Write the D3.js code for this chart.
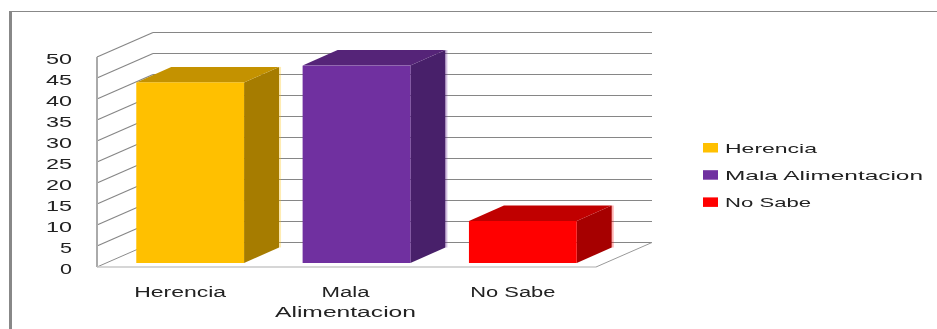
<!DOCTYPE html>
<html><head><meta charset="utf-8">
<script src="https://cdn.jsdelivr.net/npm/d3@7"></script>
<style>html,body{margin:0;padding:0;background:#fff}svg{display:block;filter:blur(0.35px)}
text{font-family:"Liberation Sans",sans-serif;font-size:14px;fill:#222}</style></head>
<body><svg id="c" width="937" height="329"></svg>
<script>
const categories = ["Herencia","Mala Alimentacion","No Sabe"];
const axisLabels = [["Herencia"],["Mala","Alimentacion"],["No Sabe"]];
const values = [43,47,10];
const yTicks = [0,5,10,15,20,25,30,35,40,45,50];
const faceColors = ["#FFC000","#7030A0","#FF0000"];
const topColors = ["#C49200","#552478","#C00000"];
const sideColors = ["#A67C00","#48206A","#A60000"];

const svg = d3.select("#c");
const y = d3.scaleLinear().domain([0,50]).range([267,57]);
const x = d3.scaleBand().domain(categories).range([107,606]).paddingInner(0.352).paddingOuter(0.176);
const depth = {dx:56, dy:-24.5};
const barDepth = {dx:35, dy:-15.5};
const barInset = -4;
const left = 97, right = 596;

// frame
svg.append("rect").attr("x",9).attr("y",11).attr("width",3).attr("height",318).attr("fill","#888");
svg.append("rect").attr("x",9).attr("y",11).attr("width",928).attr("height",1).attr("fill","#888");

// walls
const grid = svg.append("g").attr("fill","none").attr("stroke","#868686").attr("stroke-width",1.2);
yTicks.forEach(t=>{
  const p = y(t);
  if(t>0) grid.append("path").attr("d",`M${left},${p}L${left+depth.dx},${p+depth.dy}`);
  grid.append("path").attr("d",`M${left+depth.dx},${p+depth.dy}H${right+depth.dx}`);
});
svg.append("path").attr("d",`M${left},${y(50)}V${y(0)}`).attr("stroke","#aaa").attr("stroke-width",2).attr("fill","none");
svg.append("path").attr("d",`M${left},${y(0)}L${left+depth.dx},${y(0)+depth.dy}`).attr("stroke","#8c8c8c").attr("fill","none");
svg.append("path").attr("d",`M${left},${y(0)}H${right}`).attr("stroke","#c8c8c8").attr("stroke-width",1.5).attr("fill","none");
svg.append("path").attr("d",`M${right},${y(0)}L${right+depth.dx},${y(0)+depth.dy}`).attr("stroke","#9a9a9a").attr("fill","none");

// bars
categories.forEach((c,i)=>{
  const x0 = x(c), x1 = x0+x.bandwidth();
  const b = y(0)+barInset, t = y(values[i])+barInset;
  const {dx,dy} = barDepth;
  const g = svg.append("g");
  g.append("path").attr("d",`M${x1+dx+1},${t+dy}V${b+dy}`).attr("stroke",faceColors[i]).attr("stroke-opacity",0.3).attr("stroke-width",2).attr("fill","none");
  g.append("path").attr("fill",sideColors[i]).attr("d",`M${x1},${b}L${x1+dx},${b+dy}V${t+dy}L${x1},${t}Z`);
  g.append("path").attr("fill",topColors[i]).attr("d",`M${x0},${t}L${x0+dx},${t+dy}H${x1+dx}L${x1},${t}Z`);
  g.append("rect").attr("x",x0).attr("y",t).attr("width",x.bandwidth()).attr("height",b-t).attr("fill",faceColors[i]);
});

// y axis
const ax = svg.append("g").attr("transform","translate(72,1.6)")
  .call(d3.axisLeft(y).tickValues(yTicks).tickSize(0).tickPadding(0));
ax.select(".domain").remove();
ax.selectAll("text").attr("textLength",function(d){return d<10?12:26}).attr("lengthAdjust","spacingAndGlyphs")
  .attr("dy","0.36em").style("font-size","14px").style("font-family",'"Liberation Sans",sans-serif');

// category labels
const widths = [[92],[48,141],[85]];
axisLabels.forEach((lines,i)=>{
  const cx = x(categories[i])+x.bandwidth()/2 + [-10,-11,-10][i];
  lines.forEach((l,j)=>{
    svg.append("text").text(l).attr("x",cx).attr("y",297+j*19.5).attr("text-anchor","middle")
      .attr("textLength",widths[i][j]).attr("lengthAdjust","spacingAndGlyphs").style("font-size","14px");
  });
});

// legend
const legendW = [92,198,86];
categories.forEach((c,i)=>{
  const yy = 143+27.2*i;
  svg.append("rect").attr("x",703).attr("y",yy).attr("width",15).attr("height",9.5).attr("fill",faceColors[i]);
  svg.append("text").text(c).attr("x",725).attr("y",yy+9.5).attr("textLength",legendW[i]).attr("lengthAdjust","spacingAndGlyphs").style("font-size","13px");
});
</script></body></html>
